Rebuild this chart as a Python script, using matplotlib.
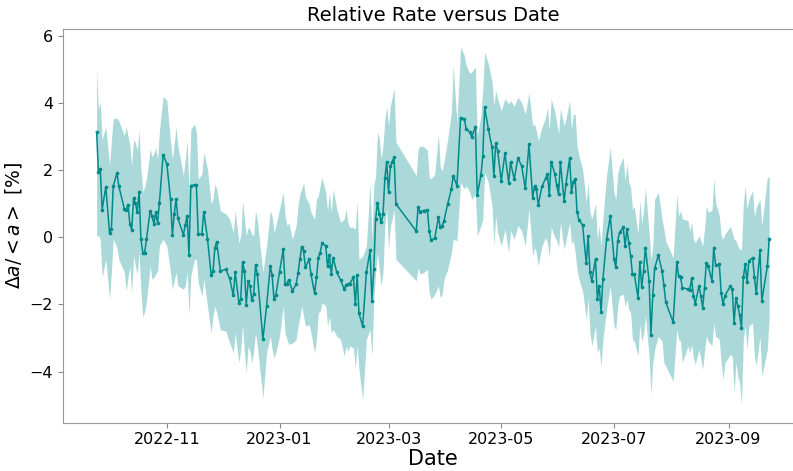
import numpy as np
import matplotlib
matplotlib.use("Agg")
import matplotlib.pyplot as plt
import matplotlib.dates as mdates

# first measurement day; every point below is a day offset from it
start = np.datetime64("2022-09-24")

days = [0, 1, 2, 3, 5, 7, 8, 9, 11, 12, 15, 16, 17, 18, 19, 20, 21, 22, 23, 24,
        25, 26, 27, 29, 30, 31, 32, 33, 34, 36, 38, 40, 41, 42, 43, 44, 47, 48, 49, 50,
        51, 53, 54, 55, 57, 58, 60, 62, 63, 64, 65, 67, 70, 72, 74, 75, 77, 78, 79, 80,
        81, 82, 83, 84, 85, 86, 87, 90, 92, 94, 95, 96, 97, 99, 101, 102, 103, 104, 106, 108,
        109, 110, 111, 112, 113, 115, 116, 118, 119, 120, 121, 122, 124, 125, 126, 127, 128, 130, 132, 134,
        135, 136, 137, 139, 140, 141, 142, 144, 146, 148, 149, 150, 151, 152, 153, 154, 155, 156, 157, 158,
        159, 160, 161, 162, 173, 174, 175, 177, 179, 180, 181, 183, 185, 186, 187, 188, 190, 192, 193, 195,
        197, 199, 200, 202, 203, 205, 206, 208, 209, 210, 212, 214, 215, 216, 217, 219, 221, 223, 224, 226,
        228, 230, 232, 234, 236, 237, 238, 239, 241, 243, 244, 245, 246, 248, 249, 250, 251, 253, 254, 256,
        257, 258, 259, 260, 261, 263, 265, 266, 267, 268, 270, 271, 272, 273, 274, 276, 278, 280, 281, 282,
        283, 285, 286, 287, 288, 289, 290, 291, 293, 294, 295, 296, 297, 299, 300, 301, 302, 304, 306, 307,
        308, 312, 314, 315, 316, 317, 320, 321, 322, 323, 324, 326, 327, 328, 329, 330, 331, 333, 334, 335,
        337, 338, 339, 340, 343, 344, 345, 346, 347, 348, 349, 350, 351, 352, 353, 355, 356, 357, 359, 360,
        363, 364]

rate = [3.14, 1.94, 2.03, 0.82, 1.5, 0.12, 0.24, 1.51, 1.91, 1.53, 0.84, 0.81, 0.97, 0.39, 0.22, 1.16, 1.01, 0.74, 1.35, -0.06,
        -0.46, -0.46, -0.06, 0.79, 0.64, 0.39, 0.74, 0.41, 1.03, 2.45, 2.19, 1.13, 0.06, 0.68, 1.13, 0.56, 0.07, 0.37, 0.64, -0.53,
        1.53, 1.56, 1.55, 0.09, 0.09, 0.76, -0.04, -1.12, -1.02, -0.31, -0.14, -1.01, -0.96, -1.23, -1.73, -1.04, -1.95, -1.85, -0.74, -1.0,
        -2.02, -1.3, -1.45, -1.88, -1.7, -0.83, -1.1, -3.04, -2.05, -0.86, -1.13, -1.85, -1.72, -1.05, -0.36, -1.38, -1.38, -1.27, -1.6, -1.4,
        -1.08, -0.66, -0.28, -0.41, -0.9, -0.66, -1.1, -1.67, -1.2, -0.61, -0.46, -0.18, -0.26, -0.87, -0.54, -1.1, -0.61, -1.05, -1.27, -1.55,
        -1.42, -1.4, -1.38, -1.2, -2.0, -1.13, -2.27, -2.65, -1.05, -0.39, -1.9, -0.96, 0.54, 1.03, 0.69, 0.44, 0.69, 1.75, 2.25, 1.33,
        2.11, 2.25, 2.38, 0.99, 0.18, 0.9, 0.76, 0.79, 0.81, 0.19, -0.09, -0.03, 0.59, 0.29, 0.34, 0.49, 0.99, 1.43, 1.83, 1.53,
        3.55, 3.52, 3.22, 3.13, 2.98, 3.29, 1.25, 1.85, 2.41, 3.87, 3.22, 2.68, 1.83, 2.8, 2.58, 1.68, 2.5, 1.61, 2.23, 1.73,
        2.35, 2.13, 1.45, 2.76, 1.17, 1.53, 1.43, 0.96, 1.51, 1.75, 1.88, 1.26, 2.25, 1.88, 1.55, 1.28, 2.23, 1.08, 1.58, 2.35,
        1.33, 1.65, 1.73, 0.76, 0.52, 0.36, -0.78, 0.04, -1.05, -1.3, -0.64, -1.83, -1.45, -2.22, -1.25, -0.06, 0.62, -0.64, -0.9, -0.11,
        0.14, 0.29, -0.26, 0.24, -0.16, -0.56, -1.1, -1.1, -1.8, -0.74, -1.49, -1.0, -0.31, -1.3, -2.9, -1.72, -0.93, -0.54, -1.0, -1.43,
        -1.93, -2.53, -0.73, -1.17, -1.2, -1.5, -1.55, -1.58, -1.23, -1.75, -1.98, -1.45, -1.75, -2.1, -1.5, -0.76, -0.87, -1.3, -0.31, -0.84,
        -0.81, -1.65, -2.0, -1.75, -1.45, -1.55, -2.55, -1.8, -2.05, -2.32, -2.7, -1.2, -0.81, -1.33, -0.71, -0.61, -1.2, -1.67, -0.39, -1.9,
        -0.86, -0.04]

upper = [4.96, 3.82, 4.0, 2.9, 3.28, 2.13, 2.87, 3.54, 3.54, 3.47, 3.02, 3.29, 3.0, 2.72, 2.13, 2.92, 2.8, 2.6, 3.17, 2.03,
         1.34, 1.5, 1.73, 2.63, 2.39, 2.5, 2.66, 2.33, 3.17, 4.19, 4.07, 2.84, 2.33, 2.8, 3.28, 2.72, 1.83, 2.33, 2.87, 1.38,
         3.22, 3.37, 3.13, 1.73, 1.88, 2.53, 2.03, 0.99, 1.13, 1.58, 1.43, 0.79, 0.69, 0.54, 0.14, 0.79, -0.16, 0.04, 1.08, 0.54,
         0.04, 0.29, 0.24, 0.09, 0.04, 0.79, 0.49, -1.05, -0.26, 0.79, 0.64, 0.14, 0.34, 0.84, 1.33, 0.64, 0.34, 0.44, -0.06, 0.34,
         0.93, 1.28, 1.43, 1.63, 1.2, 1.0, 0.74, 0.54, 1.13, 1.23, 1.53, 1.78, 1.33, 0.79, 1.33, 0.74, 1.43, 0.84, 0.44, 0.54,
         0.84, 0.44, 0.29, 0.29, 0.24, 1.08, -0.66, -0.56, -0.26, 1.61, -0.06, 1.53, 1.83, 3.13, 2.92, 2.33, 2.72, 3.52, 3.87, 3.32,
         3.92, 4.17, 4.42, 2.83, 1.83, 2.63, 2.71, 2.7, 2.58, 1.78, 1.73, 1.88, 3.07, 2.08, 1.98, 2.23, 2.92, 3.72, 5.11, 3.42,
         5.66, 5.41, 5.11, 4.87, 4.92, 5.06, 3.02, 3.62, 4.42, 5.51, 5.16, 4.62, 3.92, 4.37, 4.12, 3.77, 4.12, 3.97, 4.07, 3.9,
         4.17, 4.0, 3.67, 4.3, 3.32, 3.37, 3.17, 2.87, 3.27, 3.57, 3.87, 3.17, 4.12, 3.72, 3.42, 3.07, 3.82, 3.32, 3.52, 4.07,
         3.22, 3.67, 3.64, 2.72, 2.43, 2.03, 1.03, 1.63, 0.74, 0.54, 0.99, -0.06, 0.34, -0.26, 0.54, 1.83, 2.68, 1.33, 1.13, 1.88,
         2.13, 2.38, 1.68, 2.18, 1.63, 1.48, 0.84, 0.9, 0.1, 1.1, 0.39, 0.8, 1.48, 0.14, -0.66, -0.26, 1.13, 1.33, 0.54, 0.24,
         -0.11, -0.61, 1.28, 0.64, 0.79, 0.54, 0.5, 0.19, 0.44, -0.06, -0.16, 0.04, -0.1, -0.26, 0.24, 0.93, 0.74, 0.8, 1.73, 1.03,
         0.64, 0.04, -0.06, 0.09, 0.32, 0.14, -0.06, -0.1, -0.26, -0.36, -0.36, 0.99, 1.53, 0.84, 1.13, 1.38, 0.59, 0.89, 1.13, 0.34,
         1.78, 1.78]

lower = [0.04, 0.04, -0.06, -1.19, -0.66, -1.85, -1.04, -0.06, -0.3, -0.66, -1.04, -1.6, -1.2, -0.86, -1.64, -0.56, -0.86, -1.1, -0.46, -1.64,
         -2.39, -2.2, -1.9, -0.86, -1.25, -1.2, -1.1, -1.0, -0.26, -0.06, -0.26, -1.04, -1.55, -1.3, -1.05, -1.45, -1.55, -1.45, -1.04, -2.3,
         -1.15, -0.66, -0.66, -1.35, -1.75, -1.25, -2.05, -2.85, -2.35, -2.05, -2.25, -2.75, -2.8, -3.14, -3.44, -2.85, -3.74, -3.34, -2.6, -3.43,
         -4.04, -3.24, -3.4, -3.74, -3.4, -2.85, -3.24, -4.79, -3.44, -2.95, -3.34, -3.59, -3.44, -2.95, -2.05, -2.85, -3.04, -3.19, -3.15, -3.05,
         -2.65, -2.4, -2.05, -2.35, -2.65, -2.6, -2.85, -3.44, -3.04, -2.25, -2.2, -1.95, -2.05, -2.65, -2.35, -2.85, -2.75, -2.95, -3.04, -3.54,
         -3.24, -3.4, -3.24, -3.3, -3.89, -3.24, -3.94, -4.84, -3.04, -2.75, -3.54, -1.95, -1.05, -0.46, -0.96, -1.45, -1.05, 0.34, 0.84, -0.36,
         0.34, 0.54, 0.84, -0.66, -1.3, -0.9, -1.1, -1.05, -0.96, -1.65, -1.85, -1.7, -1.45, -1.8, -1.7, -1.25, -0.96, -0.46, -0.06, -0.11,
         1.63, 1.43, 1.53, 1.33, 1.13, 1.3, 0.04, 0.34, 0.54, 1.93, 1.63, 0.93, -0.26, 0.64, 0.14, -0.26, 0.24, -0.46, 0.2, -0.06,
         0.34, 0.2, -0.26, 0.84, -0.56, -0.31, -0.46, -0.86, -0.26, -0.01, -0.16, -0.61, 0.29, -0.01, -0.1, -0.31, 0.44, -0.36, -0.1, 0.44,
         -0.2, -0.1, -0.46, -0.96, -1.25, -1.6, -2.45, -1.8, -2.85, -3.24, -2.65, -3.44, -3.3, -3.84, -3.04, -2.15, -1.45, -2.65, -2.75, -2.05,
         -1.75, -1.7, -2.05, -1.85, -2.15, -2.25, -3.04, -3.1, -3.54, -2.6, -3.1, -2.9, -2.35, -3.54, -4.69, -3.74, -3.34, -2.95, -3.1, -3.74,
         -3.84, -4.29, -2.75, -3.04, -3.1, -3.74, -3.24, -3.44, -3.2, -3.59, -3.79, -3.34, -3.64, -3.94, -3.4, -2.95, -3.1, -3.24, -2.55, -2.95,
         -3.04, -3.74, -4.24, -3.74, -3.49, -3.54, -4.64, -3.74, -4.14, -4.34, -4.99, -3.04, -2.65, -3.34, -2.65, -2.55, -3.54, -3.84, -2.95, -4.14,
         -3.34, -2.35]

dates = start + np.array(days).astype("timedelta64[D]")

fig = plt.figure(figsize=(7.93, 4.71), dpi=100)
ax = fig.add_axes([0.0794, 0.1026, 0.933, 0.8355])

ax.fill_between(dates, lower, upper, color="darkcyan", alpha=0.33, linewidth=0)
ax.plot(dates, rate, color="darkcyan", linewidth=1.1, marker="o", markersize=1.6)

ax.set_title("Relative Rate versus Date", fontsize=14)
ax.set_xlabel("Date", fontsize=15, labelpad=1)
ax.set_ylabel(r"$\Delta a / <a>$ [%]", fontsize=13.5)

ax.xaxis.set_major_locator(mdates.MonthLocator(bymonth=[1, 3, 5, 7, 9, 11]))
ax.xaxis.set_major_formatter(mdates.DateFormatter("%Y-%m"))
ax.set_yticks([-4, -2, 0, 2, 4, 6])
ax.tick_params(labelsize=11.5, color="#888888", length=3.5)

for side in ax.spines.values():
    side.set_color("#999999")
ax.spines["right"].set_visible(False)

fig.savefig("out.png", dpi=100)
